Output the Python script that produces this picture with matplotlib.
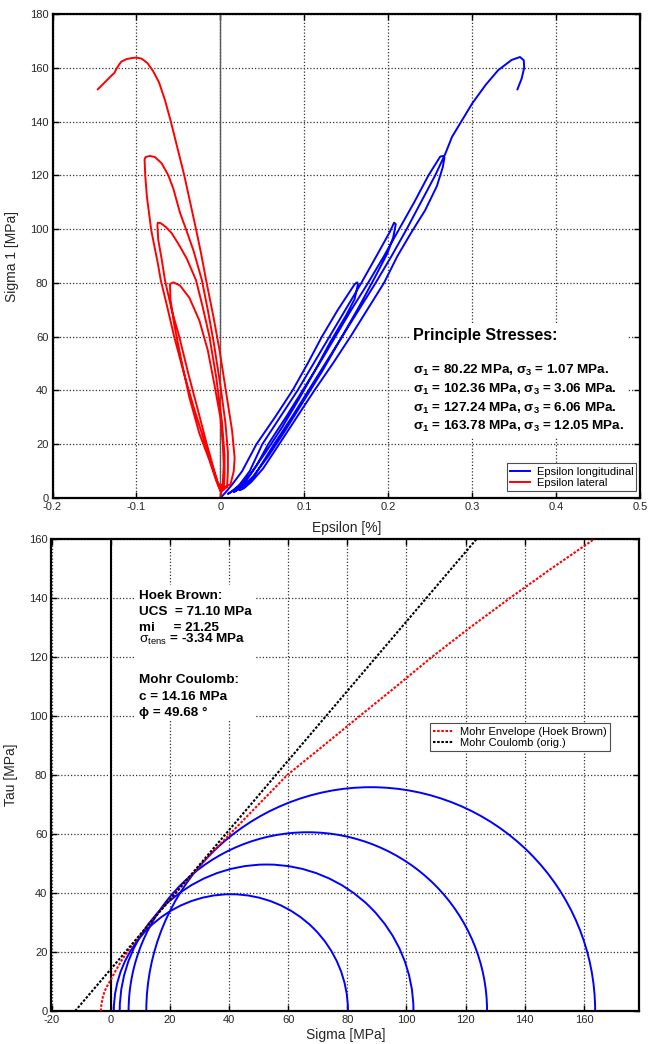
import numpy as np
import matplotlib
matplotlib.use('Agg')
import matplotlib.pyplot as plt
from matplotlib.patches import Arc, Rectangle

plt.rcParams['font.family'] = ['Liberation Sans', 'DejaVu Sans']
plt.rcParams['mathtext.fontset'] = 'custom'
plt.rcParams['mathtext.rm'] = 'Liberation Sans'
plt.rcParams['mathtext.bf'] = 'Liberation Sans:bold'
plt.rcParams['mathtext.it'] = 'Liberation Sans:italic'
plt.rcParams['axes.unicode_minus'] = False

# lateral strain [%] vs sigma 1 [MPa], 4 load/unload cycles
lat_eps = [0.000, 0.003, 0.004, 0.003, 0.000, -0.007, -0.015, -0.025, -0.037, -0.048, -0.056, -0.060,
           -0.0595, -0.055, -0.047, -0.037, -0.025, -0.013, -0.005, 0.000,
           0.004, 0.005, 0.005, 0.002, -0.005, -0.013, -0.021, -0.029, -0.040, -0.049, -0.058, -0.065, -0.071, -0.0745,
           -0.075, -0.074, -0.070, -0.066, -0.058, -0.049, -0.038, -0.027, -0.017, -0.008, -0.002, 0.002,
           0.008, 0.009, 0.009, 0.006, 0.000, -0.008, -0.015, -0.022, -0.032, -0.041, -0.048, -0.056, -0.062, -0.070,
           -0.078, -0.084, -0.089, -0.0903,
           -0.0895, -0.0875, -0.0823, -0.0744, -0.071, -0.064, -0.055, -0.044, -0.032, -0.020, -0.010, -0.003, 0.004,
           0.012, 0.016, 0.017, 0.014, 0.009, 0.004, -0.001, -0.008, -0.017, -0.023, -0.029, -0.036, -0.043, -0.051,
           -0.059, -0.066, -0.073, -0.080, -0.087, -0.094, -0.100, -0.106, -0.112, -0.118, -0.121, -0.124, -0.126,
           -0.130, -0.146]
lat_sig = [0.0, 6, 12, 20, 30, 42, 55, 66, 74.5, 79.0, 80.2, 79.6,
           74, 64.5, 52, 37.5, 24, 14, 6.5, 2.5,
           3, 9, 16, 28, 45, 60, 71, 81, 89, 94, 98.5, 100.8, 102.2, 102.4,
           101.5, 96, 89, 81, 70, 60, 46, 33, 21, 11, 4.5, 3,
           4, 10, 17, 28, 42, 58, 70, 81, 92, 100, 106, 115, 120, 124.5,
           126.8, 127.2, 126.8, 126,
           120, 112, 99.5, 87.1, 81, 72, 60, 47, 34, 22, 12, 5.5, 4,
           5, 10, 15, 25, 35, 45, 55, 67, 81, 91, 100, 110, 120, 130,
           140, 148, 154.5, 158.7, 161.8, 163.4, 163.8, 163.6, 163.2, 162.3, 161.0, 159.5, 158.2,
           157.0, 152.0]

# longitudinal strain [%] vs sigma 1 [MPa]
lon_eps = [0.000, 0.006, 0.014, 0.026, 0.043, 0.065, 0.086, 0.104, 0.121, 0.140, 0.160, 0.163,
           0.164, 0.160, 0.150, 0.131, 0.112, 0.094, 0.074, 0.054, 0.036, 0.021, 0.009,
           0.014, 0.023, 0.035, 0.050, 0.071, 0.092, 0.111, 0.130, 0.149, 0.168, 0.186, 0.202, 0.207,
           0.209, 0.206, 0.199, 0.184, 0.165, 0.143, 0.121, 0.099, 0.077, 0.057, 0.039, 0.026, 0.016,
           0.022, 0.031, 0.043, 0.057, 0.078, 0.098, 0.118, 0.137, 0.156, 0.176, 0.195, 0.213, 0.231, 0.248,
           0.262, 0.266,
           0.267, 0.265, 0.258, 0.244, 0.228, 0.211, 0.195, 0.175, 0.155, 0.134, 0.112, 0.091, 0.070, 0.051,
           0.037, 0.028, 0.023,
           0.030, 0.040, 0.050, 0.064, 0.085, 0.105, 0.125, 0.145, 0.165, 0.185, 0.204, 0.222, 0.239, 0.256,
           0.268, 0.276, 0.288, 0.300, 0.316, 0.331, 0.347, 0.357, 0.3615, 0.362, 0.359, 0.354]
lon_sig = [0.0, 2, 5, 10, 20, 30, 40, 50, 60, 70, 79.5, 80.2,
           79.5, 74, 68, 58, 47, 37, 26.5, 17, 9, 4, 1.5,
           2.5, 5, 10, 20, 30, 40, 50, 60, 70, 80, 90, 99, 102.4,
           101.8, 97, 91, 82, 71, 59, 47, 36, 25, 15.5, 8, 4, 2.2,
           3.5, 6.5, 12, 20, 30, 40, 50, 60, 70, 80, 90, 100, 110, 120,
           127, 127.2,
           126.6, 123, 116, 107, 99, 90, 80, 70, 60, 50, 40, 30, 20, 11,
           6, 3.6, 2.9,
           4.5, 8, 13, 20, 30, 40, 50, 60, 70, 80, 90, 100, 110, 120,
           128, 134.3, 140.5, 146.7, 153.6, 159.1, 162.9, 164.0, 162.8, 160, 156, 152]

# principal stresses of the 4 cycles
sigma1 = [80.22, 102.36, 127.24, 163.78]
sigma3 = [1.07, 3.06, 6.06, 12.05]

# Mohr envelope (Hoek Brown)
hb_sigma = [-3.34, -3.1, -2.6, -1.9, -0.9, 0.0, 1.6, 3.6, 6.3, 9.7, 13.9, 18.1, 22.0, 26.8, 31.8,
            40.3, 50.0, 59.7, 72.0, 84.2, 96.5, 108.6, 121.5, 135.0, 149.0, 163.5]
hb_tau = [0.0, 2.5, 5.0, 7.0, 9.0, 10.5, 13.5, 17.0, 21.0, 25.5, 30.5, 35.5, 40.0, 45.5, 51.0,
          60.0, 70.0, 80.0, 90.0, 100.0, 110.0, 120.0, 130.0, 140.0, 150.0, 160.0]

# Mohr Coulomb line end points
mc_sigma = [-12.0, 123.7]
mc_tau = [0.0, 160.0]

hb_lines = ['UCS  = 71.10 MPa', 'mi     = 21.25', r'$\mathrm{\sigma_{tens}}$ = -3.34 MPa']
mc_lines = ['c = 14.16 MPa', 'ϕ = 49.68 °']

W, H = 649, 1044
fig = plt.figure(figsize=(W / 100, H / 100), dpi=100)
ax1 = fig.add_axes([52.5 / W, 1 - 498 / H, 587.5 / W, 484 / H])
ax2 = fig.add_axes([51.5 / W, 1 - 1011 / H, 587.5 / W, 472 / H])

gridkw = dict(linestyle=(0, (1, 1.6)), color='0.2', linewidth=0.9)
for ax in (ax1, ax2):
    ax.set_axisbelow(True)
    ax.grid(True, **gridkw)
    ax.tick_params(direction='in', top=True, right=True, length=4, width=1,
                   labelsize=8, pad=3, labelcolor='0.15')
    for sp in ax.spines.values():
        sp.set_linewidth(1.6)

# ---- top: stress strain ----
ax1.axvline(0, color='0.35', lw=1.0, zorder=1.5)
ax1.plot(lon_eps, lon_sig, color='#0000ff', lw=1.4, label='Epsilon longitudinal', zorder=2)
ax1.plot(lat_eps, lat_sig, color='#ff0000', lw=1.4, label='Epsilon lateral', zorder=2)
ax1.set_xlim(-0.2, 0.5)
ax1.set_ylim(0, 180)
ax1.set_xticks(np.arange(-0.2, 0.51, 0.1))
ax1.set_xticklabels(['-0.2', '-0.1', '0', '0.1', '0.2', '0.3', '0.4', '0.5'])
ax1.set_yticks(np.arange(0, 181, 20))
ax1.set_xlabel('Epsilon [%]', fontsize=10, color='0.15')
ax1.set_ylabel('Sigma 1 [MPa]', fontsize=10, color='0.15')
ax1.xaxis.set_label_coords(0.5, -0.048)
ax1.yaxis.set_label_coords(-0.057, 0.5)

ax1.add_patch(Rectangle((0.6085, 0.124), 0.37, 0.236, transform=ax1.transAxes,
                        facecolor='white', edgecolor='none', zorder=1))
ax1.text(0.6136, 0.3265, 'Principle Stresses:', transform=ax1.transAxes, fontsize=11.5,
         fontweight='bold', va='baseline', zorder=3)
for i, (s1, s3) in enumerate(zip(sigma1, sigma3)):
    ax1.text(0.6136, 0.2561 - i * 0.0387,
             r'σ$_\mathbf{1}$ = %.2f MPa, σ$_\mathbf{3}$ = %.2f MPa.' % (s1, s3),
             transform=ax1.transAxes, fontsize=9.7, fontweight='bold', va='baseline', zorder=3)

leg1 = ax1.legend(loc='lower right', bbox_to_anchor=(0.994, 0.0145), fontsize=8,
                  fancybox=False, framealpha=1, edgecolor='0.3', handlelength=1.8,
                  handletextpad=0.6, labelspacing=0.1, borderpad=0.3, borderaxespad=0)
leg1.get_frame().set_linewidth(0.8)

# ---- bottom: Mohr circles ----
for s1, s3 in zip(sigma1, sigma3):
    ax2.add_patch(Arc(((s1 + s3) / 2, 0), s1 - s3, s1 - s3, theta1=0, theta2=180,
                      color='#0000ff', lw=1.4, zorder=2))
ax2.axvline(0, color='black', lw=1.5, zorder=1.5)
ax2.plot(hb_sigma, hb_tau, color='#ff0000', lw=1.5, linestyle=(0, (1.2, 0.8)),
         label='Mohr Envelope (Hoek Brown)', zorder=3)
ax2.plot(mc_sigma, mc_tau, color='black', lw=1.5, linestyle=(0, (1.2, 0.8)),
         label='Mohr Coulomb (orig.)', zorder=3)
ax2.set_xlim(-20, 178.6)
ax2.set_ylim(0, 160)
ax2.set_xticks(np.arange(-20, 161, 20))
ax2.set_yticks(np.arange(0, 161, 20))
ax2.set_xlabel('Sigma [MPa]', fontsize=10, color='0.15')
ax2.set_ylabel('Tau [MPa]', fontsize=10, color='0.15')
ax2.xaxis.set_label_coords(0.5, -0.036)
ax2.yaxis.set_label_coords(-0.057, 0.5)

ax2.add_patch(Rectangle((0.1438, 0.616), 0.202, 0.286, transform=ax2.transAxes,
                        facecolor='white', edgecolor='none', zorder=1))
tx = 0.1494
ax2.text(tx, 0.872, 'Hoek Brown:', transform=ax2.transAxes, fontsize=9.7,
         fontweight='bold', va='baseline', zorder=4)
for y, s in zip([0.8386, 0.8053, 0.7798], hb_lines):
    ax2.text(tx, y, s, transform=ax2.transAxes, fontsize=9.7, fontweight='bold',
             va='baseline', zorder=4)
ax2.text(tx, 0.6949, 'Mohr Coulomb:', transform=ax2.transAxes, fontsize=9.7,
         fontweight='bold', va='baseline', zorder=4)
for y, s in zip([0.6597, 0.6248], mc_lines):
    ax2.text(tx, y, s, transform=ax2.transAxes, fontsize=9.7, fontweight='bold',
             va='baseline', zorder=4)

leg2 = ax2.legend(loc='lower right', bbox_to_anchor=(0.9506, 0.5505), fontsize=8,
                  fancybox=False, framealpha=1, edgecolor='0.3', handlelength=1.8,
                  handletextpad=0.6, labelspacing=0.1, borderpad=0.3, borderaxespad=0)
leg2.get_frame().set_linewidth(0.8)

fig.savefig('out.png', dpi=100)
